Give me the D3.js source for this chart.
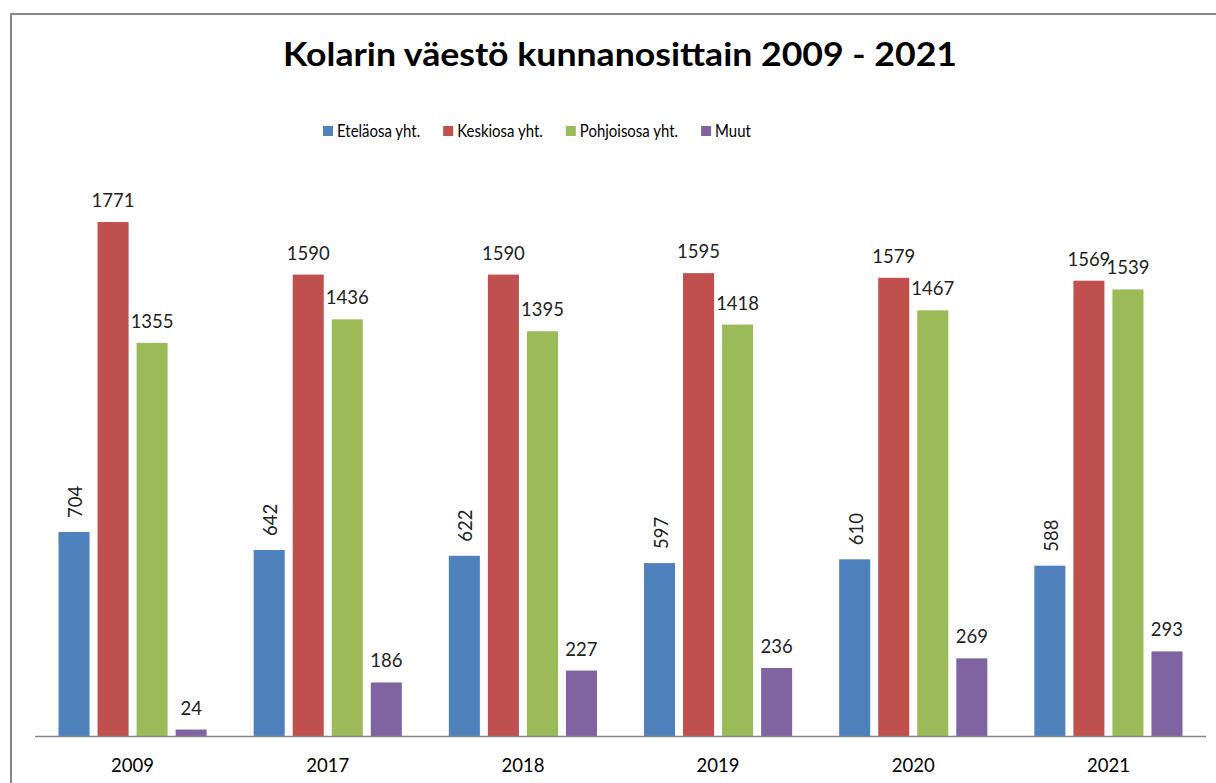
<!DOCTYPE html>
<html>
<head>
<meta charset="utf-8">
<script src="https://cdn.jsdelivr.net/npm/d3@7"></script>
<style>
    body { margin: 0; background: #fff; }
    svg { display: block; font-family: Lato, "Open Sans", sans-serif; }
</style>
</head>
<body>
<svg></svg>
<script>
    //-------------------
    // DATA
    //-------------------
    var years = ["2009", "2017", "2018", "2019", "2020", "2021"];
    var seriesNames = ["Eteläosa yht.", "Keskiosa yht.", "Pohjoisosa yht.", "Muut"];
    var etelaosa = [704, 642, 622, 597, 610, 588];
    var keskiosa = [1771, 1590, 1590, 1595, 1579, 1569];
    var pohjoisosa = [1355, 1436, 1395, 1418, 1467, 1539];
    var muut = [24, 186, 227, 236, 269, 293];
    var colors = ["#4f81bd", "#c0504d", "#9bbb59", "#8064a2"];

    var seriesValues = [etelaosa, keskiosa, pohjoisosa, muut];

    //-------------------
    // SETUP
    //-------------------
    var width = 1216, height = 783;

    var svg = d3.select("svg")
        .attr("width", width)
        .attr("height", height);

    // chart border (cut by the picture on right and bottom)
    svg.append("path")
        .attr("d", "M11,783 V14 H1216")
        .attr("fill", "none")
        .attr("stroke", "#868686")
        .attr("stroke-width", 2);

    var x0 = d3.scaleBand()
        .domain(years)
        .range([35, 1206]);

    var x1 = d3.scaleBand()
        .domain(seriesNames)
        .range([23.5, x0.bandwidth() - 23.5])
        .paddingInner(0.205);

    var y = d3.scaleLinear()
        .domain([0, 2000])
        .range([736.5, 155.5]);

    //-------------------
    // TITLE
    //-------------------
    svg.append("text")
        .attr("x", 620)
        .attr("y", 66)
        .attr("text-anchor", "middle")
        .attr("font-size", 32)
        .attr("font-weight", "bold")
        .attr("textLength", 674)
        .attr("lengthAdjust", "spacingAndGlyphs")
        .attr("fill", "#000")
        .text("Kolarin väestö kunnanosittain 2009 - 2021");

    //-------------------
    // LEGEND
    //-------------------
    var legend = svg.append("g").attr("class", "legend");
    var lx = 323;
    seriesNames.forEach(function (name, i) {
        legend.append("rect")
            .attr("x", lx)
            .attr("y", 126)
            .attr("width", 10)
            .attr("height", 10)
            .attr("fill", colors[i]);
        var t = legend.append("text")
            .attr("x", lx + 14)
            .attr("y", 137)
            .attr("font-size", 17)
            .attr("fill", "#000")
            .text(name);
        // squeeze to the narrower original face
        var w = t.node().getComputedTextLength() * 0.88;
        t.attr("textLength", w).attr("lengthAdjust", "spacingAndGlyphs");
        lx += 14 + w + 23;
    });

    //-------------------
    // BARS
    //-------------------
    var groups = svg.selectAll("g.year")
        .data(years)
        .enter()
        .append("g")
        .attr("class", "year")
        .attr("transform", d => "translate(" + x0(d) + ",0)");

    groups.selectAll("rect")
        .data((d, i) => seriesNames.map((s, j) => ({ series: s, idx: j, value: seriesValues[j][i] })))
        .enter()
        .append("rect")
        .attr("x", d => x1(d.series))
        .attr("y", d => y(d.value))
        .attr("width", x1.bandwidth())
        .attr("height", d => y(0) - y(d.value))
        .attr("fill", d => colors[d.idx]);

    // value labels: first series rotated, others horizontal
    groups.selectAll("text.value")
        .data((d, i) => seriesNames.map((s, j) => ({ series: s, idx: j, value: seriesValues[j][i] })))
        .enter()
        .append("text")
        .attr("class", "value")
        .attr("font-size", 18.5)
        .attr("fill", "#222")
        .each(function (d) {
            var cx = x1(d.series) + x1.bandwidth() / 2;
            var sel = d3.select(this);
            if (d.idx === 0) {
                sel.attr("transform", "translate(" + (cx + 1) + "," + (y(d.value) - 14) + ") rotate(-90)")
                    .attr("text-anchor", "start")
                    .attr("dominant-baseline", "central");
            } else {
                sel.attr("x", cx)
                    .attr("y", y(d.value) - 15)
                    .attr("text-anchor", "middle");
            }
        })
        .text(d => d.value);

    //-------------------
    // X AXIS
    //-------------------
    svg.append("line")
        .attr("x1", 35)
        .attr("x2", 1206)
        .attr("y1", y(0))
        .attr("y2", y(0))
        .attr("stroke", "#868686")
        .attr("stroke-width", 1.5);

    svg.selectAll("text.year-label")
        .data(years)
        .enter()
        .append("text")
        .attr("class", "year-label")
        .attr("x", d => x0(d) + x0.bandwidth() / 2)
        .attr("y", 772)
        .attr("text-anchor", "middle")
        .attr("font-size", 18.5)
        .attr("fill", "#000")
        .text(d => d);
</script>
</body>
</html>
